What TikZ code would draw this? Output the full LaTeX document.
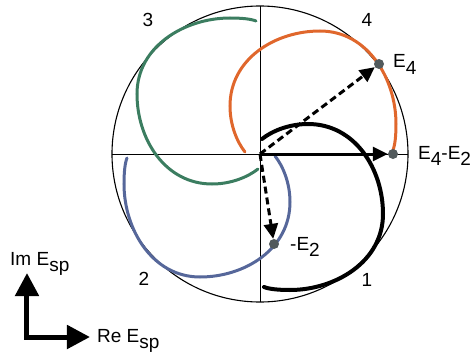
\documentclass[tikz,border=0pt]{standalone}
\usepackage{fontspec}
\setmainfont{Liberation Sans}
\usepackage{tikz}
\usepackage{xcolor}
\usetikzlibrary{arrows.meta,positioning}

\definecolor{spOrange}{HTML}{E0672C}
\definecolor{spGreen}{HTML}{3B7D60}
\definecolor{spBlue}{HTML}{56679A}
\definecolor{spDot}{HTML}{525A5C}
\newcommand{\subidx}[1]{\raisebox{-6.5pt}{#1}}

\tikzset{
    branch/.style={line width=3pt, line cap=round},
    vec/.style={line width=3pt, -{Triangle[length=15pt,width=14pt]}},
    dashvec/.style={vec, dash pattern=on 7pt off 4pt},
    dot/.style={circle, fill=spDot, inner sep=0pt, minimum size=10pt},
    frame/.style={line width=5pt, -{Triangle[length=23pt,width=23pt]}}
}

\begin{document}
\begin{tikzpicture}[x=1pt,y=1pt,font=\fontsize{19}{22}\selectfont]
\useasboundingbox (-260,-205) rectangle (214,154);
\coordinate (O) at (0,0);
\draw[line width=1.1pt] (O) circle[radius=148pt];
\draw[line width=0.9pt] (-148,0) -- (148,0);
\draw[line width=0.9pt] (0,148) -- (0,-148);
% one spiral, turned four times
\foreach \ang/\col/\lw in {90/spOrange/3pt,180/spGreen/3pt,270/spBlue/3pt,0/black/4pt} {
    \draw[branch, \col, line width=\lw, rotate=\ang] (2,15)
        .. controls (12,23) and (29,30) .. (48,30)
        .. controls (95,30) and (123,-15) .. (123,-60)
        .. controls (123,-108) and (75,-136) .. (30,-136)
        .. controls (18,-136) and (9,-135) .. (4,-133);
}
\node[dot] (E4) at (119,90) {};
\node[dot] (E42) at (133,0) {};
\node[dot] (mE2) at (14,-90) {};
\draw[dashvec] (O) -- (E4);
\draw[vec] (O) -- (E42);
\draw[dashvec] (O) -- (mE2);
\node[anchor=base west, inner sep=0pt] (labE4) at (133,86) {E\subidx{4}};
\node[anchor=base west, inner sep=0pt] (labE42) at (158,-5) {E\subidx{4}-E\subidx{2}};
\node[anchor=base west, inner sep=0pt] (labmE2) at (30,-96) {-E\subidx{2}};
\foreach \x/\y/\lab in {107/-132/1,-116/-131/2,-112/127/3,107/127/4} {
    \node[anchor=base, inner sep=0pt] (n\lab) at (\x,\y) {\lab};
}
% axes key
\coordinate (corner) at (-233,-183);
\coordinate (imtip) at (-233,-119);
\coordinate (retip) at (-170,-183);
\draw[frame] ([yshift=-2.5pt]corner) -- (imtip);
\draw[frame] ([xshift=-2.5pt]corner) -- (retip);
\node[anchor=base west, inner sep=0pt] (imlab) at (-250,-111) {Im E\subidx{sp}};
\node[anchor=base west, inner sep=0pt] (relab) at (-163,-188) {Re E\subidx{sp}};
\end{tikzpicture}
\end{document}
